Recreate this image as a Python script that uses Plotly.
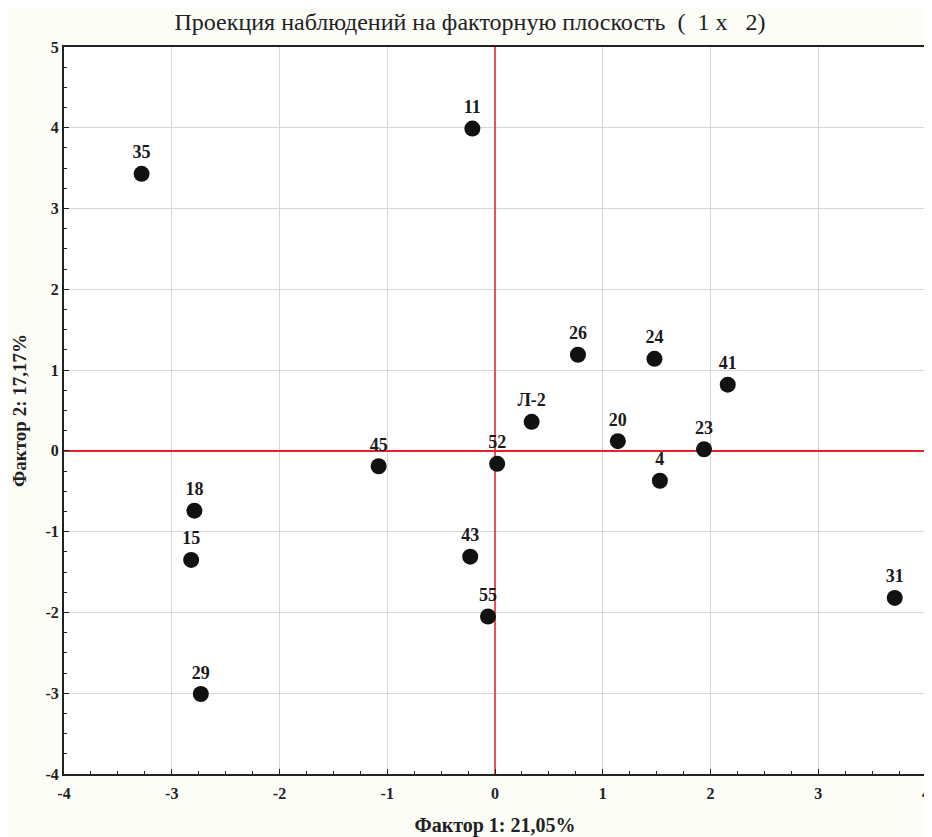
import plotly.graph_objects as go

labels = ["35", "11", "26", "24", "41", "Л-2", "20", "23", "4", "45", "52",
          "18", "15", "43", "55", "29", "31"]
factor1 = [-3.28, -0.21, 0.77, 1.48, 2.16, 0.34, 1.14, 1.94, 1.53, -1.08, 0.02,
           -2.79, -2.82, -0.23, -0.065, -2.73, 3.71]
factor2 = [3.43, 3.99, 1.19, 1.14, 0.82, 0.36, 0.12, 0.02, -0.37, -0.19, -0.16,
           -0.74, -1.35, -1.31, -2.05, -3.01, -1.82]

x_ticks = [-4, -3, -2, -1, 0, 1, 2, 3, 4]
x_ticktext = ["-4", "-3", "-2", "-1", "0", "1", "2", "3", "4"]
y_ticks = [-4, -3, -2, -1, 0, 1, 2, 3, 4, 5]
y_ticktext = ["-4", "-3", "-2", "-1", "0", "1", "2", "3", "4", "5"]

font_family = "Liberation Serif, DejaVu Serif, serif"

fig = go.Figure()
fig.add_trace(go.Scatter(
    x=factor1, y=factor2, mode="markers+text",
    text=labels, textposition="top center",
    textfont=dict(family=font_family, size=18, color="#1a1a1a", weight="bold"),
    marker=dict(size=16, color="#111111"),
    cliponaxis=False,
    showlegend=False,
))

fig.add_shape(type="line", x0=0, x1=0, y0=-4, y1=5, xref="x", yref="y",
              line=dict(color="#e8202a", width=1.5), layer="between")
fig.add_shape(type="line", x0=-4, x1=4, y0=0, y1=0, xref="x", yref="y",
              line=dict(color="#e8202a", width=2), layer="between")

axis_common = dict(
    showgrid=True, gridcolor="#d6d6d6", gridwidth=1,
    zeroline=False, showline=True, linecolor="#222", linewidth=2, mirror=True,
    ticks="inside", ticklen=5, tickcolor="#222",
    minor=dict(ticks="inside", ticklen=3, dtick=0.25, tickcolor="#222", showgrid=False),
    tickfont=dict(family=font_family, size=16, color="#222", weight="bold"),
    automargin=False,
)

fig.update_xaxes(range=[-4, 4], tickmode="array", tickvals=x_ticks, ticktext=x_ticktext,
                 ticklabelstandoff=4,
                 title=dict(text="Фактор 1: 21,05%",
                            font=dict(family=font_family, size=20, color="#222", weight="bold"),
                            standoff=18),
                 **axis_common)
fig.update_yaxes(range=[-4, 5], tickmode="array", tickvals=y_ticks, ticktext=y_ticktext,
                 title=dict(text="Фактор 2: 17,17%",
                            font=dict(family=font_family, size=19, color="#222", weight="bold"),
                            standoff=14),
                 **axis_common)

# page body has an 8px margin: figure is 924x829 so it fills the 932x837 window
fig.update_layout(
    width=924, height=829,
    margin=dict(l=56, r=6, t=39, b=63),
    paper_bgcolor="#fdfdf8", plot_bgcolor="#ffffff",
    title=dict(text="Проекция наблюдений на факторную плоскость  (  1 x   2)",
               x=0.5, xanchor="center", y=0.983, yanchor="middle",
               font=dict(family=font_family, size=24, color="#222")),
)

fig.write_html("out.html")
